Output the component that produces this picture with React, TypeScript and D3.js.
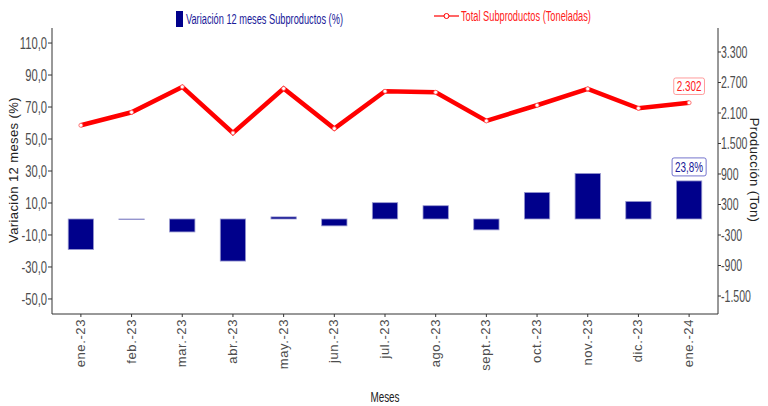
// @ts-nocheck
import * as d3 from 'd3';
import React, { useEffect, useRef } from 'react';

const months = [
  'ene.-23', 'feb.-23', 'mar.-23', 'abr.-23', 'may.-23', 'jun.-23', 'jul.-23',
  'ago.-23', 'sept.-23', 'oct.-23', 'nov.-23', 'dic.-23', 'ene.-24',
];
const variacion = [-19.1, -0.3, -8.1, -26.3, 1.3, -4.3, 10.2, 8.3, -6.8, 16.6, 28.5, 11.0, 23.8];
const toneladas = [1858, 2114, 2614, 1708, 2581, 1793, 2528, 2508, 1945, 2252, 2575, 2193, 2302];
const leftTicks = [-50, -30, -10, 10, 30, 50, 70, 90, 110];
const rightTicks = [-1500, -900, -300, 300, 900, 1500, 2100, 2700, 3300];

const FONT = '"Liberation Sans", Arial, sans-serif';
const SQ = 0.66; // horizontal squeeze to mimic a condensed face

const fmt = (v: number, dec: number) => {
  const s = Math.abs(v).toFixed(dec).replace('.', ',');
  const [ip, dp] = s.split(',');
  const ipF = ip.replace(/\B(?=(\d{3})+(?!\d))/g, '.');
  return (v < 0 ? '-' : '') + ipF + (dp ? ',' + dp : '');
};

export default function App() {
  const svgRef = useRef<SVGSVGElement>(null);
  const width = 768;
  const height = 406;

  useEffect(() => {
    const svg = d3.select(svgRef.current);
    svg.selectAll('*').remove();

    const margin = { top: 28, right: 50, bottom: 92, left: 52 };
    const innerW = width - margin.left - margin.right;
    const innerH = height - margin.top - margin.bottom;
    const g = svg.append('g').attr('transform', `translate(${margin.left},${margin.top})`);

    // condensed text helper
    const narrow = (parent, px, py, txt, color, anchor = 'start', size = 14) =>
      parent.append('text')
        .attr('transform', `translate(${px},${py}) scale(${SQ},1)`)
        .attr('dy', '0.35em')
        .attr('text-anchor', anchor)
        .style('font-family', FONT).style('font-size', size + 'px').style('fill', color)
        .text(txt);

    const x = d3.scaleBand().domain(months).range([0, innerW]).paddingInner(0.5).paddingOuter(0.32);
    const yL = d3.scaleLinear().domain([-59.4, 119.4]).range([innerH, 0]);
    const yR = d3.scaleLinear().domain([-1854, 3772]).range([innerH, 0]);

    // axes lines
    const axisColor = '#333';
    g.append('line').attr('x1', 0).attr('x2', 0).attr('y1', 0).attr('y2', innerH).attr('stroke', axisColor);
    g.append('line').attr('x1', innerW).attr('x2', innerW).attr('y1', 0).attr('y2', innerH).attr('stroke', axisColor);
    g.append('line').attr('x1', 0).attr('x2', innerW).attr('y1', innerH).attr('y2', innerH).attr('stroke', axisColor);

    // left ticks
    leftTicks.forEach(t => {
      g.append('line').attr('x1', -4).attr('x2', 0).attr('y1', yL(t)).attr('y2', yL(t)).attr('stroke', axisColor);
      narrow(g, -5, yL(t), fmt(t, 1), '#4d4d4d', 'end', 17);
    });

    // right ticks
    rightTicks.forEach(t => {
      g.append('line').attr('x1', innerW).attr('x2', innerW + 3).attr('y1', yR(t)).attr('y2', yR(t)).attr('stroke', axisColor);
      narrow(g, innerW + 3, yR(t), fmt(t, 0), '#4d4d4d', 'start', 16);
    });

    // x ticks and labels
    months.forEach(m => {
      const cx = x(m) + x.bandwidth() / 2;
      g.append('line').attr('x1', cx).attr('x2', cx).attr('y1', innerH).attr('y2', innerH + 3).attr('stroke', axisColor);
      g.append('text')
        .attr('transform', `translate(${cx + 4},${innerH + 5}) rotate(-90)`)
        .attr('text-anchor', 'end')
        .style('font-family', FONT).style('font-size', '13px').style('letter-spacing', '0.6px')
        .style('fill', '#4d4d4d')
        .text(m);
    });

    // bars
    g.selectAll('.bar')
      .data(variacion)
      .enter()
      .append('rect')
      .attr('x', (d, i) => x(months[i]))
      .attr('width', x.bandwidth())
      .attr('y', d => yL(Math.max(0, d)))
      .attr('height', d => Math.max(0.5, Math.abs(yL(d) - yL(0))))
      .attr('fill', '#00008b')
      .attr('stroke', '#9a9ad0')
      .attr('stroke-width', 0.8);

    // line
    const line = d3.line<number>()
      .x((d, i) => x(months[i]) + x.bandwidth() / 2)
      .y(d => yR(d));
    g.append('path')
      .datum(toneladas)
      .attr('fill', 'none')
      .attr('stroke', '#ff0000')
      .attr('stroke-width', 4.5)
      .attr('d', line);
    g.selectAll('.pt')
      .data(toneladas)
      .enter()
      .append('circle')
      .attr('cx', (d, i) => x(months[i]) + x.bandwidth() / 2)
      .attr('cy', d => yR(d))
      .attr('r', 2)
      .attr('fill', '#fff')
      .attr('stroke', '#ff5050')
      .attr('stroke-width', 0.8);

    // last-value labels
    const last = months.length - 1;
    const lx = x(months[last]) + x.bandwidth() / 2;
    const addLabel = (cy: number, text: string, color: string, border: string, h: number) => {
      const lg = g.append('g');
      lg.append('rect');
      const t = narrow(lg, lx, cy, text, color, 'middle', 15);
      const w = t.node().getComputedTextLength() * SQ;
      lg.select('rect')
        .attr('x', lx - w / 2 - 3).attr('y', cy - h / 2)
        .attr('width', w + 6).attr('height', h)
        .attr('rx', 2)
        .attr('fill', '#fff').attr('stroke', border).attr('stroke-width', 0.8);
    };
    addLabel(yR(toneladas[last]) - 16.5, fmt(toneladas[last], 0), '#ff2020', '#ff8080', 16.5);
    addLabel(yL(variacion[last]) - 14, fmt(variacion[last], 1) + '%', '#1a1a99', '#5050c0', 18);

    // axis titles
    svg.append('text')
      .attr('transform', `translate(18,${margin.top + innerH / 2 - 1}) rotate(-90)`)
      .attr('text-anchor', 'middle')
      .style('font-family', FONT).style('font-size', '13px').style('letter-spacing', '0.4px')
      .style('fill', '#222')
      .text('Variación 12 meses (%)');
    svg.append('text')
      .attr('transform', `translate(750,${margin.top + innerH / 2 - 1}) rotate(90)`)
      .attr('text-anchor', 'middle')
      .style('font-family', FONT).style('font-size', '13px').style('letter-spacing', '0.4px')
      .style('fill', '#222')
      .text('Producción (Ton)');
    narrow(svg, 385, 397, 'Meses', '#222', 'middle', 15);

    // legend
    svg.append('rect').attr('x', 176).attr('y', 11).attr('width', 7).attr('height', 16).attr('fill', '#00008b');
    narrow(svg, 186, 19, 'Variación 12 meses Subproductos (%)', '#1a1a99', 'start', 14);
    svg.append('line').attr('x1', 434).attr('x2', 459).attr('y1', 16).attr('y2', 16).attr('stroke', '#ff0000').attr('stroke-width', 1.2);
    svg.append('circle').attr('cx', 446.5).attr('cy', 16).attr('r', 2.5).attr('fill', '#fff').attr('stroke', '#ff0000').attr('stroke-width', 1);
    narrow(svg, 461, 16, 'Total Subproductos (Toneladas)', '#ff2020', 'start', 14);
  }, []);

  return (
    <svg
      ref={svgRef}
      width={width}
      height={height}
      style={{ position: 'absolute', left: 0, top: 0, background: '#fff' }}
    />
  );
}
